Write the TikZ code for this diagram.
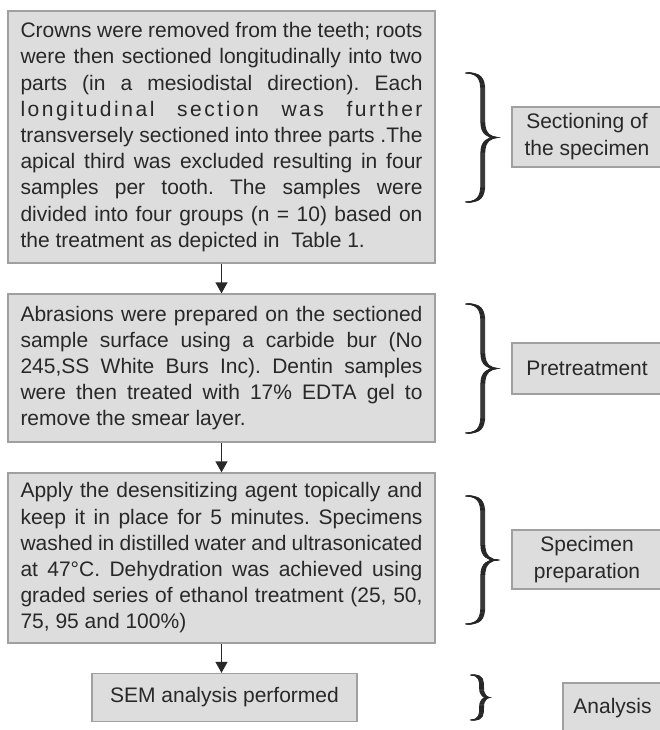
\documentclass[tikz,border=0pt]{standalone}
\usepackage{fontspec}
\setmainfont{Liberation Sans}
\usetikzlibrary{arrows.meta}

\tolerance=9999
\hbadness=10000
\frenchspacing

\definecolor{boxfill}{RGB}{221,221,221}
\definecolor{boxline}{RGB}{160,160,160}
\definecolor{ink}{RGB}{40,40,40}

\tikzset{
    stepbox/.style={draw=boxline, fill=boxfill, line width=1.3pt, text=ink,
        text width=402pt, inner xsep=12.5pt, inner ysep=0pt, align=justify,
        font=\fontsize{21}{26.2}\selectfont},
    tagbox/.style={draw=boxline, fill=boxfill, line width=1.3pt, text=ink,
        align=center, inner sep=0pt, font=\fontsize{21}{27}\selectfont},
    flow/.style={ink, line width=1.3pt, -{Triangle[width=12pt,length=11pt]}},
    curly/.style={black!85, line width=0.8pt},
}

\begin{document}
\begin{tikzpicture}[x=1pt, y=-1pt]
    \useasboundingbox (0,0) rectangle (659,730);

    % The steps
    \node[stepbox, minimum height=252pt] (sec) at (221.5,137) {%
        Crowns were removed from the teeth; roots\linebreak
        were then sectioned longitudinally into two\linebreak
        parts (in a mesiodistal direction). Each\linebreak
        {\addfontfeature{LetterSpace=12}longitudinal section was further}\linebreak
        transversely sectioned into three parts .The\linebreak
        apical third was excluded resulting in four\linebreak
        samples per tooth. The samples were\linebreak
        divided into four groups (n = 10) based on\linebreak
        the treatment as depicted in\ \ Table 1.};
    \node[stepbox, minimum height=148pt] (pre) at (221.5,368) {%
        Abrasions were prepared on the sectioned\linebreak
        sample surface using a carbide bur (No\linebreak
        245,SS White Burs Inc). Dentin samples\linebreak
        were then treated with 17\% EDTA gel to\linebreak
        remove the smear layer.};
    \node[stepbox, minimum height=170pt] (prep) at (221.5,558) {%
        Apply the desensitizing agent topically and\linebreak
        keep it in place for 5 minutes. Specimens\linebreak
        washed in distilled water and ultrasonicated\linebreak
        at 47°C. Dehydration was achieved using\linebreak
        graded series of ethanol treatment (25, 50,\linebreak
        75, 95 and 100\%)};
    \node[tagbox, minimum width=265pt, minimum height=48pt] (sem) at (224.5,697.5)
        {SEM analysis performed};

    % The stage labels
    \node[tagbox, minimum width=150pt, minimum height=60pt] (secTag) at (587,137)
        {Sectioning of\\the specimen};
    \node[tagbox, minimum width=150pt, minimum height=51pt] (preTag) at (587,368.5)
        {Pretreatment};
    \node[tagbox, minimum width=150pt, minimum height=59pt] (prepTag) at (587,559.5)
        {Specimen\\preparation};
    \node[tagbox, minimum width=99pt, minimum height=51pt] (semTag) at (612.5,708.5)
        {Analysis};

    % Arrows between the steps
    \draw[flow] (sec) -- (pre);
    \draw[flow] (pre) -- (prep);
    \draw[flow] (prep.south) -- (prep.south |- sem.north);

    % Braces: top/bottom/width/left edge, drawn several times side by side
    \foreach \top/\bot/\amp/\xb in {73/202/33/465, 304/433/33/465, 496/624/33/465, 675/720/20/470}
    {
        \foreach \dx in {0,0.5,...,4}
            \draw[curly] (\xb+\dx,\top)
                .. controls (\xb+\dx+0.48*\amp,\top) and (\xb+\dx+0.48*\amp,\top+0.3*\amp)
                .. (\xb+\dx+0.48*\amp,\top+0.67*\amp)
                -- (\xb+\dx+0.48*\amp,{(\top+\bot)/2-0.45*\amp})
                .. controls (\xb+\dx+0.48*\amp,{(\top+\bot)/2-0.1*\amp}) and (\xb+\dx+0.7*\amp,{(\top+\bot)/2})
                .. (\xb+\dx+\amp-4,{(\top+\bot)/2})
                .. controls (\xb+\dx+0.7*\amp,{(\top+\bot)/2}) and (\xb+\dx+0.48*\amp,{(\top+\bot)/2+0.1*\amp})
                .. (\xb+\dx+0.48*\amp,{(\top+\bot)/2+0.45*\amp})
                -- (\xb+\dx+0.48*\amp,\bot-0.67*\amp)
                .. controls (\xb+\dx+0.48*\amp,\bot-0.3*\amp) and (\xb+\dx+0.48*\amp,\bot)
                .. (\xb+\dx,\bot);
    }
\end{tikzpicture}
\end{document}
